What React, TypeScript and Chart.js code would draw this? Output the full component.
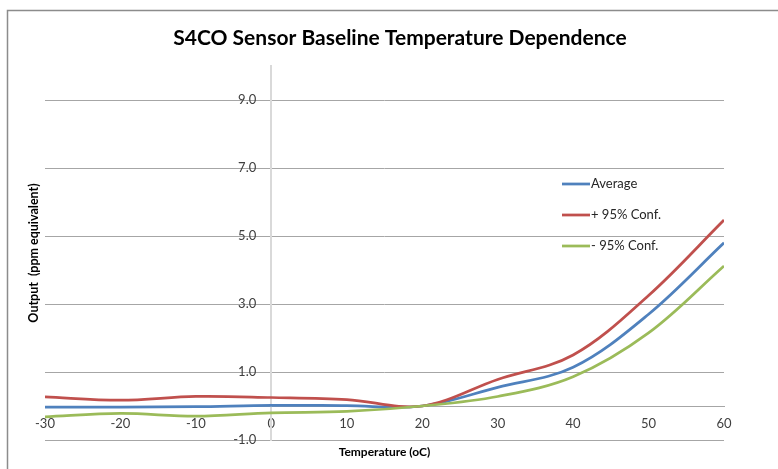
import React, { useEffect, useRef } from "react";
import { Chart, registerables } from "chart.js";

Chart.register(...registerables);

const chartTitle = "S4CO Sensor Baseline Temperature Dependence";
const xAxisTitle = "Temperature (oC)";
const yAxisTitle = "Output  (ppm equivalent)";

const temperatures = [-30, -20, -10, 0, 10, 20, 30, 40, 50, 60];
const averageValues = [-0.03, -0.03, -0.02, 0.02, 0.01, 0.0, 0.55, 1.14, 2.7, 4.8];
const upperValues = [0.27, 0.17, 0.28, 0.25, 0.19, 0.0, 0.78, 1.5, 3.25, 5.47];
const lowerValues = [-0.32, -0.22, -0.3, -0.2, -0.16, 0.0, 0.28, 0.86, 2.15, 4.12];

const seriesLabels = ["Average", "+ 95% Conf.", "- 95% Conf."];
const seriesColors = ["#4F81BD", "#C0504D", "#9BBB59"];

const xTickValues = [-30, -20, -10, 0, 10, 20, 30, 40, 50, 60];
const yTickValues = [-1, 1, 3, 5, 7, 9];

const FONT = "Lato, 'Open Sans', sans-serif";

const decorations = {
  id: "decorations",
  beforeDraw(chart: any) {
    const { ctx, width, height } = chart;
    ctx.save();
    ctx.fillStyle = "#ffffff";
    ctx.fillRect(0, 0, width, height);
    ctx.strokeStyle = "#8c8c8c";
    ctx.lineWidth = 1.5;
    ctx.beginPath();
    ctx.moveTo(7.5, height + 5);
    ctx.lineTo(7.5, 10.5);
    ctx.lineTo(width + 5, 10.5);
    ctx.stroke();
    ctx.restore();
  },
  afterDraw(chart: any) {
    const { ctx, chartArea } = chart;
    ctx.save();
    ctx.fillStyle = "#000000";
    ctx.font = `bold 21px ${FONT}`;
    ctx.textAlign = "center";
    ctx.textBaseline = "middle";
    ctx.fillText(chartTitle, 400, 38);
    ctx.font = `bold 12px ${FONT}`;
    ctx.fillText(xAxisTitle, (chartArea.left + chartArea.right) / 2, chartArea.bottom + 12);
    ctx.save();
    ctx.translate(34, 253);
    ctx.rotate(-Math.PI / 2);
    ctx.font = `bold 12.5px ${FONT}`;
    ctx.fillText(yAxisTitle, 0, 0);
    ctx.restore();
    const lx = chartArea.left + 517;
    const ys = [184, 215, 246];
    chart.data.datasets.forEach((ds: any, i: number) => {
      const y = ys[i];
      ctx.strokeStyle = ds.borderColor;
      ctx.lineWidth = 2.75;
      ctx.beginPath();
      ctx.moveTo(lx, y);
      ctx.lineTo(lx + 28, y);
      ctx.stroke();
      ctx.fillStyle = "#262626";
      ctx.font = `13px ${FONT}`;
      ctx.textAlign = "left";
      ctx.textBaseline = "middle";
      ctx.fillText(ds.label, lx + 29, y);
    });
    ctx.restore();
  },
};

export default function App() {
  const canvasRef = useRef<HTMLCanvasElement | null>(null);

  useEffect(() => {
    const canvas = canvasRef.current;
    if (!canvas) return;
    const seriesValues = [averageValues, upperValues, lowerValues];
    const chart = new Chart(canvas, {
      type: "line",
      data: {
        datasets: seriesValues.map((vals, i) => ({
          label: seriesLabels[i],
          data: temperatures.map((t, j) => ({ x: t, y: vals[j] })),
          borderColor: seriesColors[i],
          backgroundColor: seriesColors[i],
          borderWidth: 2.75,
          pointRadius: 0,
          tension: 0.35,
          fill: false,
          order: 3 - i,
        })),
      },
      options: {
        responsive: false,
        animation: false,
        layout: { padding: { left: 45, right: 54, top: 66, bottom: 29 } },
        plugins: {
          legend: { display: false },
          title: { display: false },
          tooltip: { enabled: false },
        },
        scales: {
          x: {
            type: "linear",
            min: -30,
            max: 60,
            position: { y: 0 } as any,
            afterBuildTicks: (axis: any) => {
              axis.ticks = xTickValues.map((v) => ({ value: v }));
            },
            grid: { display: false, drawTicks: false },
            border: { display: true, color: "#a6a6a6", width: 1 },
            ticks: {
              padding: 10,
              color: "#404040",
              font: { family: FONT, size: 13 },
              maxRotation: 0,
              autoSkip: false,
              callback: (v: any) => String(v),
            },
          },
          y: {
            type: "linear",
            min: -1,
            max: 10,
            position: { x: 0 } as any,
            afterBuildTicks: (axis: any) => {
              axis.ticks = yTickValues.map((v) => ({ value: v }));
            },
            grid: { color: "#a6a6a6", lineWidth: 1, drawTicks: false },
            border: { display: true, color: "#d9d9d9", width: 2 },
            ticks: { display: false },
          },
          yLabels: {
            type: "linear",
            min: -1,
            max: 10,
            position: { x: -2 } as any,
            afterBuildTicks: (axis: any) => {
              axis.ticks = yTickValues.map((v) => ({ value: v }));
            },
            grid: { display: false, drawTicks: false },
            border: { display: false },
            ticks: {
              color: "#404040",
              font: { family: FONT, size: 13 },
              autoSkip: false,
              callback: (v: any) => Number(v).toFixed(1),
            },
          },
        },
      },
      plugins: [decorations],
    } as any);
    return () => chart.destroy();
  }, []);

  return (
    <div style={{ position: "fixed", left: 0, top: 0, width: 778, height: 469, background: "#fff" }}>
      <canvas ref={canvasRef} width={778} height={469} style={{ display: "block" }} />
    </div>
  );
}
